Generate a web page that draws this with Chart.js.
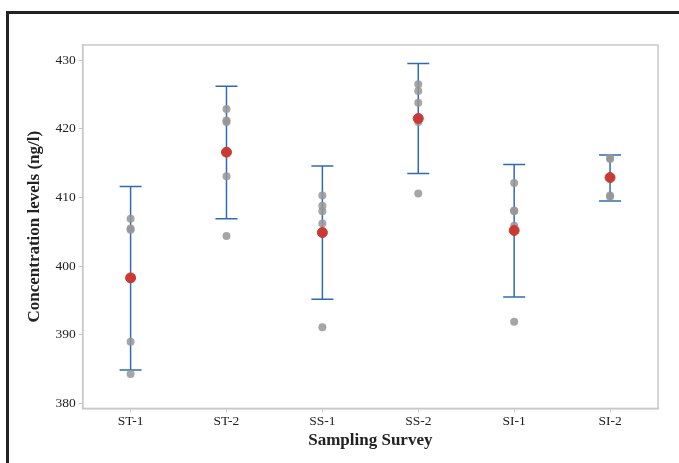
<!DOCTYPE html>
<html>
<head>
<meta charset="utf-8">
<script src="https://cdn.jsdelivr.net/npm/chart.js@4.4.1/dist/chart.umd.min.js"></script>
<style>
  html, body { margin: 0; padding: 0; background: #fff; }
  #wrap { position: relative; width: 679px; height: 463px; }
  #frame { position: absolute; left: 6px; top: 11px; right: -5px; bottom: -5px;
           border-top: 3px solid #222; border-left: 3px solid #222; pointer-events: none; }
  canvas { position: absolute; left: 0; top: 0; }
</style>
</head>
<body>
<div id="wrap">
  <canvas id="chart" width="679" height="463"></canvas>
  <div id="frame"></div>
</div>
<script>
const categories = ['ST-1', 'ST-2', 'SS-1', 'SS-2', 'SI-1', 'SI-2'];

// individual observations per sampling survey
const observations = [
  [406.9, 405.5, 405.3, 389.0, 384.3],
  [422.9, 421.2, 421.0, 413.1, 404.4],
  [410.3, 408.8, 408.0, 406.2, 391.1],
  [426.5, 425.5, 423.8, 421.0, 410.6],
  [412.1, 408.1, 408.0, 405.9, 391.9],
  [415.8, 415.6, 410.3, 410.1]
];

const means = [398.3, 416.6, 404.9, 421.5, 405.2, 412.9];
const lowerCI = [384.9, 406.9, 395.2, 413.5, 395.5, 409.5];
const upperCI = [411.6, 426.2, 414.6, 429.5, 414.8, 416.2];

const yTicks = [380, 390, 400, 410, 420, 430];

const serif = "'Liberation Serif', 'DejaVu Serif', serif";

const pointData = [];
observations.forEach((vals, i) => vals.forEach(v => pointData.push({ x: i, y: v })));

const datasets = [
  {
    label: 'Mean',
    data: means.map((v, i) => ({ x: i, y: v })),
    backgroundColor: '#c93a34',
    borderColor: '#c93a34',
    pointRadius: 5,
    order: 0
  },
  {
    label: 'Observations',
    data: pointData,
    backgroundColor: 'rgba(150,150,150,0.85)',
    borderColor: 'rgba(150,150,150,0)',
    pointRadius: 4,
    order: 1
  }
];

// error bars: vertical segment with horizontal caps (pointStyle 'line')
categories.forEach((c, i) => {
  datasets.push({
    type: 'line',
    label: 'CI ' + c,
    data: [{ x: i, y: lowerCI[i] }, { x: i, y: upperCI[i] }],
    borderColor: '#2f6bb5',
    borderWidth: 1.5,
    pointStyle: 'line',
    pointRadius: 11,
    pointBorderWidth: 1.5,
    pointBorderColor: '#2f6bb5',
    showLine: true,
    fill: false,
    order: 2
  });
});

const plotBorder = {
  id: 'plotBorder',
  afterDraw(chart) {
    const { ctx, chartArea: a } = chart;
    ctx.save();
    ctx.strokeStyle = '#c8c8c8';
    ctx.lineWidth = 1.5;
    ctx.strokeRect(a.left, a.top, a.right - a.left, a.bottom - a.top);
    ctx.restore();
  }
};

new Chart(document.getElementById('chart'), {
  type: 'scatter',
  data: { datasets: datasets },
  plugins: [plotBorder],
  options: {
    responsive: false,
    animation: false,
    layout: { padding: { top: 45, right: 21, left: 24, bottom: 12 } },
    plugins: { legend: { display: false }, tooltip: { enabled: false } },
    scales: {
      x: {
        type: 'linear',
        min: -0.5,
        max: 5.5,
        afterBuildTicks: axis => { axis.ticks = categories.map((c, i) => ({ value: i })); },
        ticks: {
          callback: v => categories[v],
          color: '#222',
          font: { family: serif, size: 13.5 },
          padding: 1
        },
        grid: { drawOnChartArea: false, drawTicks: true, tickLength: 4, color: '#c8c8c8' },
        border: { color: '#c8c8c8', width: 1.5 },
        title: {
          display: true,
          text: 'Sampling Survey',
          color: '#222',
          font: { family: serif, size: 17, weight: 'bold' },
          padding: { top: 0, bottom: 0 }
        }
      },
      y: {
        min: 379.3,
        max: 432.2,
        afterBuildTicks: axis => { axis.ticks = yTicks.map(v => ({ value: v })); },
        ticks: {
          color: '#222',
          font: { family: serif, size: 13.5 },
          padding: 3
        },
        grid: { drawOnChartArea: false, drawTicks: true, tickLength: 4, color: '#c8c8c8' },
        border: { color: '#c8c8c8', width: 1.5 },
        title: {
          display: true,
          text: 'Concentration levels (ng/l)',
          color: '#222',
          font: { family: serif, size: 17, weight: 'bold' },
          padding: { top: 0, bottom: 8 }
        }
      }
    }
  }
});
</script>
</body>
</html>
